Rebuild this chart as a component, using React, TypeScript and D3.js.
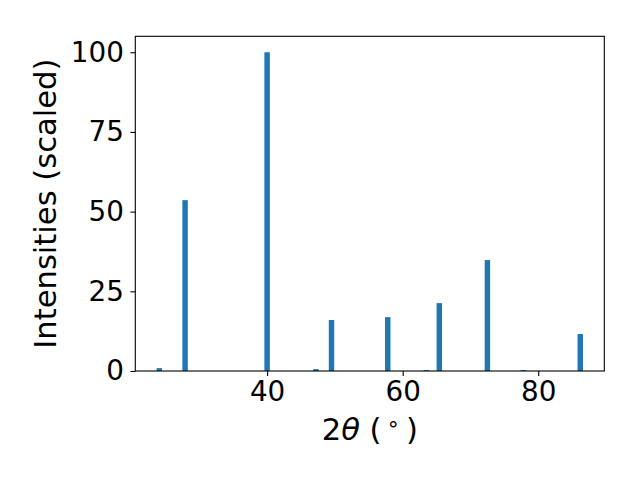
import React, { useEffect, useRef } from "react";
import * as d3 from "d3";

// peak positions (2theta, degrees) and scaled intensities
const peakPositions = [24.1, 27.9, 40.0, 47.2, 49.5, 57.8, 63.5, 65.4, 72.5, 77.8, 86.2];
const peakIntensities = [0.9, 53.6, 100, 0.6, 16.0, 16.9, 0.3, 21.3, 34.8, 0.3, 11.6];
const xTicks = [40, 60, 80];
const yTicks = [0, 25, 50, 75, 100];
const barWidth = 0.8;

export default function App() {
  const chartRef = useRef<SVGSVGElement>(null);

  useEffect(() => {
    const svg = d3.select(chartRef.current);
    svg.selectAll("*").remove();

    const W = 640, H = 480;
    const margin = { top: 36.3, right: 35.7, bottom: 109, left: 135.3 };
    const w = W - margin.left - margin.right;
    const h = H - margin.top - margin.bottom;
    const font = "DejaVu Sans, sans-serif";
    const tickFs = 27.8;
    const labelFs = 30.6;

    const g = svg.append("g").attr("transform", `translate(${margin.left},${margin.top})`);

    // matplotlib style 5% margins around the bars
    const lo = d3.min(peakPositions)! - barWidth / 2;
    const hi = d3.max(peakPositions)! + barWidth / 2;
    const pad = (hi - lo) * 0.05;
    const x = d3.scaleLinear().domain([lo - pad, hi + pad]).range([0, w]);
    const y = d3.scaleLinear().domain([0, d3.max(peakIntensities)! * 1.05]).range([h, 0]);

    const data = peakPositions.map((p, i) => ({ p, v: peakIntensities[i] }));

    g.selectAll(".bar")
      .data(data)
      .enter().append("rect")
      .attr("class", "bar")
      .attr("x", d => x(d.p - barWidth / 2))
      .attr("width", x(barWidth) - x(0))
      .attr("y", d => y(d.v))
      .attr("height", d => h - y(d.v))
      .attr("fill", "#1f77b4");

    const xAxis = g.append("g")
      .attr("transform", "translate(0," + h + ")")
      .call(d3.axisBottom(x).tickValues(xTicks).tickSize(4.9).tickPadding(5.5).tickFormat(d3.format("d")));
    const yAxis = g.append("g")
      .call(d3.axisLeft(y).tickValues(yTicks).tickSize(4.9).tickPadding(6.5).tickFormat(d3.format("d")));

    [xAxis, yAxis].forEach(a => {
      a.select(".domain").remove();
      a.selectAll("line").attr("stroke", "#000").attr("stroke-width", 1.1);
      a.selectAll("text").attr("font-family", font).attr("font-size", tickFs).attr("fill", "#000");
    });

    // frame
    g.append("rect")
      .attr("width", w).attr("height", h)
      .attr("fill", "none").attr("stroke", "#000").attr("stroke-width", 1.1);

    // x label: 2θ (°)
    const xl = svg.append("text")
      .attr("x", margin.left + w / 2)
      .attr("y", 440)
      .attr("text-anchor", "middle")
      .attr("font-family", font)
      .attr("font-size", labelFs);
    xl.append("tspan").text("2");
    xl.append("tspan").attr("font-style", "italic").text("θ");
    xl.append("tspan").text(" (");
    xl.append("tspan").attr("font-size", labelFs * 0.7).attr("dx", 5).attr("dy", -9).text("∘");
    xl.append("tspan").attr("dx", 6).attr("dy", 9).text(")");

    // y label
    svg.append("text")
      .attr("transform", `translate(56,${margin.top + h / 2}) rotate(-90)`)
      .attr("text-anchor", "middle")
      .attr("font-family", font)
      .attr("font-size", labelFs)
      .text("Intensities (scaled)");
  }, []);

  return (
    <svg
      ref={chartRef}
      width={640}
      height={480}
      style={{ position: "absolute", left: 0, top: 0, background: "#fff" }}
    ></svg>
  );
}
